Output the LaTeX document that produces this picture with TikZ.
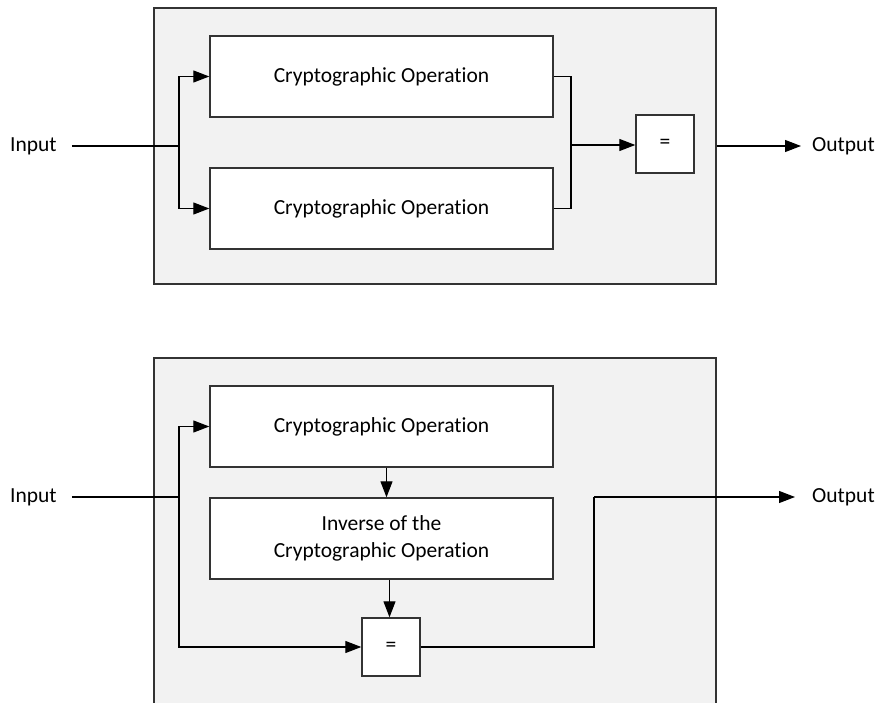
\documentclass[tikz,border=0pt]{standalone}
\usepackage{fontspec}
\setmainfont{Carlito}[Ligatures={NoCommon}]
\usetikzlibrary{arrows.meta,calc}
\definecolor{panelfill}{HTML}{F2F2F2}
\definecolor{edge}{HTML}{333333}
\begin{document}
\begin{tikzpicture}[x=1pt,y=-1pt,
  panel/.style={draw=edge,line width=1.4pt,fill=panelfill,inner sep=0pt},
  opbox/.style={draw=edge,line width=1.4pt,fill=white,minimum width=343pt,minimum height=81pt,inner sep=0pt,align=center,font=\fontsize{21.5}{27}\selectfont},
  eqbox/.style={draw=edge,line width=1.4pt,fill=white,minimum width=58pt,minimum height=58pt,inner sep=0pt,font=\fontsize{21.5}{27}\selectfont},
  lbl/.style={anchor=west,inner sep=0pt,font=\fontsize{21.5}{27}\selectfont},
  wire/.style={draw=black,line width=1.2pt},
  arr/.style={wire,-{Triangle[length=16pt,width=12pt]}}]
\useasboundingbox (0,0) rectangle (877,703);

% upper scheme: two operations compared
\node[panel,minimum width=562pt,minimum height=276pt] (p1) at (435,146) {};
\node[opbox] (a1) at (381.5,76.5) {Cryptographic Operation};
\node[opbox] (a2) at (381.5,208.5) {Cryptographic Operation};
\node[eqbox] (e1) at (665,144) {=};
\node[lbl] (in1) at (10,146) {Input};
\node[lbl] (out1) at (812,146) {Output};
\coordinate (s1) at (179,146);
\coordinate (j1) at (571,145);
\coordinate (o1) at (801,146);

\draw[wire] ($(in1.east)+(15,0)$) -- (s1);
\draw[arr] (s1) |- (a1.west);
\draw[arr] (s1) |- (a2.west);
\draw[wire] (a1.east) -| (j1);
\draw[wire] (a2.east) -| (j1);
\draw[arr] (j1) -- (j1 -| e1.west);
\draw[arr] (e1.east |- 0,146) ++(22,0) -- (o1);

% lower scheme: operation followed by its inverse
\node[panel,minimum width=562pt,minimum height=362pt] (p2) at (435,539) {};
\node[opbox] (b1) at (381.5,426.5) {Cryptographic Operation};
\node[opbox] (b2) at (381.5,538.5) {Inverse of the\\Cryptographic Operation};
\node[eqbox] (e2) at (391,647) {=};
\node[lbl] (in2) at (10,497) {Input};
\node[lbl] (out2) at (812,497) {Output};
\coordinate (s2) at (179,497);
\coordinate (t2) at (594,497);
\coordinate (o2) at (795,497);

\draw[wire] ($(in2.east)+(15,0)$) -- (s2);
\draw[arr] (s2) |- (b1.west);
\draw[arr] (s2) |- (e2.west);
\draw[arr] (b1.south -| 386.5,0) -- (b2.north -| 386.5,0);
\draw[arr] (b2.south -| 389.5,0) -- (e2.north -| 389.5,0);
\draw[wire] (e2.east) -| (t2);
\draw[arr] (t2) -- (o2);
\end{tikzpicture}
\end{document}
